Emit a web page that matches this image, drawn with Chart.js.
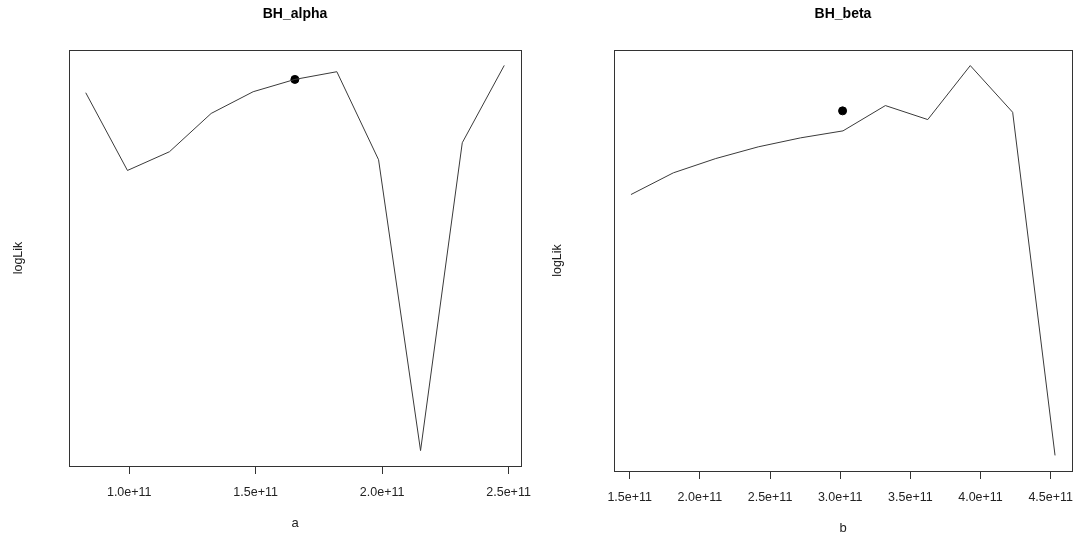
<!DOCTYPE html>
<html>
<head>
<meta charset="utf-8">
<title>BH_alpha / BH_beta</title>
<script src="https://cdn.jsdelivr.net/npm/chart.js@4.4.1/dist/chart.umd.min.js"></script>
<style>
    body { margin: 0; background: #fff; }
    canvas { position: absolute; top: 0; }
    #alphaChart { left: 0; }
    #betaChart { left: 538px; }
</style>
</head>
<body>
<canvas id="alphaChart" width="538" height="536"></canvas>
<canvas id="betaChart" width="539" height="536"></canvas>
<script>
// Profil für a (BH_alpha)
const alphaA = [0.828e11, 0.993e11, 1.159e11, 1.324e11, 1.490e11, 1.655e11, 1.821e11, 1.986e11, 2.152e11, 2.317e11, 2.483e11];
const alphaLogLik = [-1093.3, -1171, -1152.3, -1114, -1092.3, -1080, -1072.3, -1160.3, -1451, -1143.3, -1066];
const alphaBest = [1.655e11, -1080];
const alphaTicks = [1.0e11, 1.5e11, 2.0e11, 2.5e11];

// Profil für b (BH_beta)
const betaB = [1.509e11, 1.811e11, 2.113e11, 2.416e11, 2.718e11, 3.020e11, 3.322e11, 3.624e11, 3.927e11, 4.229e11, 4.531e11];
const betaLogLik = [-1195, -1173.3, -1159, -1147.3, -1138.3, -1131.3, -1106, -1120, -1066, -1112.7, -1456];
const betaBest = [3.017e11, -1111.3];
const betaTicks = [1.5e11, 2.0e11, 2.5e11, 3.0e11, 3.5e11, 4.0e11, 4.5e11];

const FONT = "'Liberation Sans', Arial, sans-serif";

// R-Stil: 4% Rand um den Datenbereich
function padRange(values) {
    const lo = Math.min(...values);
    const hi = Math.max(...values);
    const d = (hi - lo) * 0.04;
    return { min: lo - d, max: hi + d };
}

// Rahmen um die Plotfläche
const boxPlugin = {
    id: 'box',
    afterDraw(chart) {
        const a = chart.chartArea;
        const ctx = chart.ctx;
        ctx.save();
        ctx.strokeStyle = '#333';
        ctx.lineWidth = 1;
        ctx.strokeRect(Math.round(a.left) + 0.5, Math.round(a.top) + 0.5,
            Math.round(a.right - a.left), Math.round(a.bottom - a.top));
        ctx.restore();
    }
};

function makeChart(id, cfg) {
    const xr = padRange(cfg.xs);
    const yr = padRange(cfg.ys.concat([cfg.best[1]]));
    const lineData = cfg.xs.map((x, i) => ({ x: x, y: cfg.ys[i] }));

    return new Chart(document.getElementById(id).getContext('2d'), {
        type: 'scatter',
        data: {
            datasets: [{
                data: lineData,
                showLine: true,
                borderColor: '#3a3a3a',
                borderWidth: 1,
                pointRadius: 0,
                tension: 0
            }, {
                data: [{ x: cfg.best[0], y: cfg.best[1] }],
                pointRadius: 4,
                pointBackgroundColor: '#000',
                pointBorderColor: '#000'
            }]
        },
        options: {
            responsive: false,
            animation: false,
            devicePixelRatio: 1,
            layout: { padding: { left: 0, right: cfg.rightPad, top: 0, bottom: 0 } },
            plugins: {
                legend: { display: false },
                tooltip: { enabled: false },
                title: {
                    display: true,
                    text: cfg.title,
                    fullSize: false,
                    color: '#000',
                    font: { family: FONT, size: 14, weight: 'bold' },
                    padding: { top: 6, bottom: 27.2 }
                }
            },
            scales: {
                x: {
                    type: 'linear',
                    min: xr.min,
                    max: xr.max,
                    afterBuildTicks: s => { s.ticks = cfg.ticks.map(v => ({ value: v })); },
                    afterFit: s => {
                        s.height = cfg.xAxisHeight;
                        s.paddingLeft = 0;
                        s.paddingRight = 0;
                    },
                    border: { display: false },
                    grid: { drawOnChartArea: false, drawTicks: true, tickLength: 8, color: '#333' },
                    ticks: {
                        color: '#222',
                        padding: 11.5,
                        maxRotation: 0,
                        autoSkip: false,
                        font: { family: FONT, size: 12.5 },
                        callback: v => (v / 1e11).toFixed(1) + 'e+11'
                    },
                    title: {
                        display: true,
                        text: cfg.xLabel,
                        color: '#222',
                        font: { family: FONT, size: 13 },
                        padding: { top: 0, bottom: cfg.xTitlePad }
                    }
                },
                y: {
                    type: 'linear',
                    min: yr.min,
                    max: yr.max,
                    afterFit: s => {
                        s.width = cfg.yAxisWidth;
                        s.paddingTop = 0;
                        s.paddingBottom = 0;
                    },
                    border: { display: false },
                    grid: { display: false },
                    ticks: { display: false },
                    title: {
                        display: true,
                        text: 'logLik',
                        color: '#222',
                        font: { family: FONT, size: 12.5 },
                        padding: { top: cfg.yTitlePad, bottom: 0 }
                    }
                }
            }
        },
        plugins: [boxPlugin]
    });
}

makeChart('alphaChart', {
    title: 'BH_alpha', xLabel: 'a',
    xs: alphaA, ys: alphaLogLik, best: alphaBest, ticks: alphaTicks,
    yAxisWidth: 69, xAxisHeight: 70, rightPad: 17, yTitlePad: 11, xTitlePad: 4.4
});

makeChart('betaChart', {
    title: 'BH_beta', xLabel: 'b',
    xs: betaB, ys: betaLogLik, best: betaBest, ticks: betaTicks,
    yAxisWidth: 76, xAxisHeight: 65, rightPad: 5, yTitlePad: 12.5, xTitlePad: 0
});
</script>
</body>
</html>
